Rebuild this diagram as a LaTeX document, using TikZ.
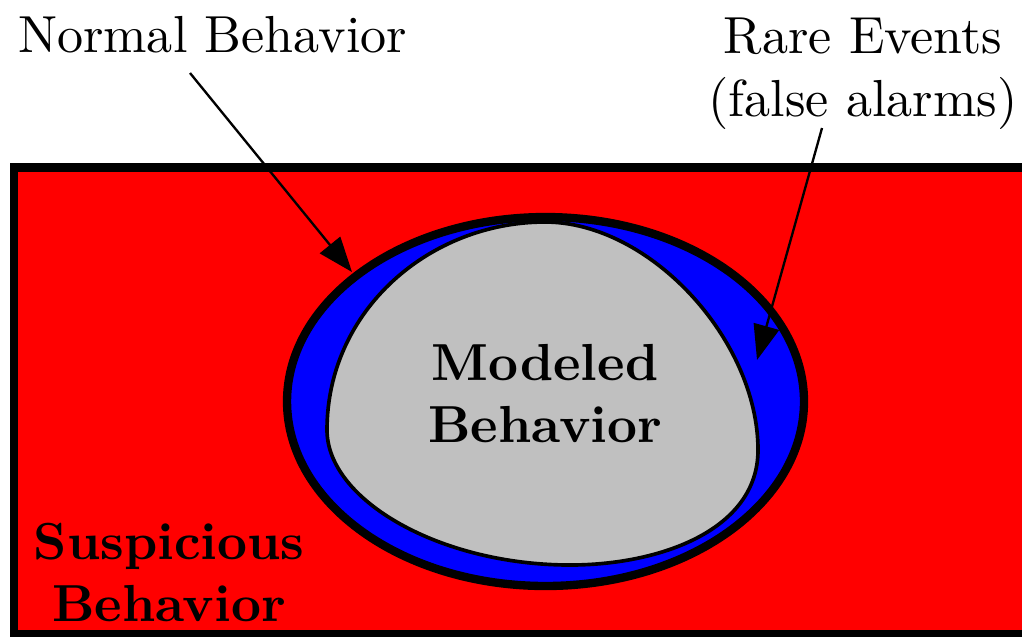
\documentclass[tikz,border=0pt]{standalone}
\usetikzlibrary{arrows.meta,shapes.geometric}
\definecolor{modelgray}{RGB}{192,192,192}
\begin{document}
\begin{tikzpicture}[x=0.1919pt,y=-0.1919pt,
  region/.style={draw=black,line width=1.6pt},
  pointer/.style={draw=black,line width=0.45pt,-{Triangle[length=6.7pt,width=5pt]}},
  tagtext/.style={align=center,inner sep=0pt},
  regiontext/.style={font=\bfseries,align=center,inner sep=0pt,anchor=north}]
\clip (0,0) rectangle (1022,636);
\fill[white] (0,0) rectangle (1022,636);
% suspicious area
\draw[region,fill=red] (14,167.5) rectangle (1045,634);
% normal behaviour
\node[ellipse,region,fill=blue,minimum width=99.2pt,minimum height=70.8pt,inner sep=0pt]
  (normalreg) at (545.5,401.5) {};
% modeled behaviour
\draw[fill=modelgray,line width=0.7pt,line join=round]
  (545,222) .. controls (650,222) and (758,340) .. (758,450)
            .. controls (758,530) and (660,565) .. (570,565)
            .. controls (440,565) and (327,500) .. (327,430)
            .. controls (327,310) and (430,222) .. (545,222) -- cycle;
\node[regiontext] (modeled) at (545,343) {Modeled\\Behavior};
\node[regiontext] (suspicious) at (169,522) {Suspicious\\Behavior};
% labels and pointers
\node[tagtext,anchor=base] (normaltxt) at (212.5,52) {Normal Behavior};
\node[tagtext,anchor=north] (raretxt) at (863,17) {Rare Events\\(false alarms)};
\coordinate (normalfrom) at (190,73);
\coordinate (normalto) at (352,272);
\coordinate (rarefrom) at (822,128);
\coordinate (rareto) at (757,360);
\draw[pointer] (normalfrom) -- (normalto);
\draw[pointer] (rarefrom) -- (rareto);
\end{tikzpicture}
\end{document}
